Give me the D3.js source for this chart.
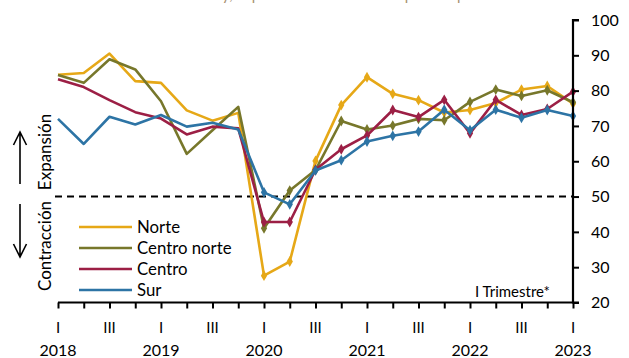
<!DOCTYPE html>
<html>
<head>
<meta charset="utf-8">
<script src="https://cdn.jsdelivr.net/npm/d3@7"></script>
<style>
  html, body { margin: 0; padding: 0; background: #fff; }
  svg { display: block; }
  text { font-family: Lato, "Open Sans", sans-serif; }
</style>
</head>
<body>
<svg id="chart" width="629" height="358"></svg>
<script>
// ---- data ----
const quarterLabels = ["I","","III","","I","","III","","I","","III","","I","","III","","I","","III","","I"];
const yearLabels = ["2018","","","","2019","","","","2020","","","","2021","","","","2022","","","","2023"];
const seriesNames = ["Norte", "Centro norte", "Centro", "Sur"];
const norte       = [84.5, 85.0, 90.5, 82.7, 82.2, 74.4, 71.5, 73.7, 27.6, 31.6, 60.1, 75.9, 83.8, 79.1, 77.3, 73.8, 74.5, 76.5, 80.3, 81.3, 76.3];
const centroNorte = [84.4, 82.2, 88.9, 86.0, 77.0, 62.1, 68.8, 75.4, 41.0, 51.7, 57.5, 71.4, 69.0, 70.1, 72.0, 71.6, 76.8, 80.3, 78.5, 80.1, 76.7];
const centro      = [83.2, 81.0, 77.3, 73.9, 72.1, 67.6, 69.8, 69.3, 42.8, 42.8, 57.6, 63.4, 67.3, 74.5, 72.5, 77.4, 67.9, 77.4, 73.1, 74.8, 79.7];
const sur         = [72.0, 64.9, 72.6, 70.4, 73.1, 69.8, 70.9, 69.0, 51.2, 47.8, 57.4, 60.3, 65.6, 67.2, 68.4, 74.6, 68.8, 74.6, 72.3, 74.5, 72.8];
const yTicks = [20, 30, 40, 50, 60, 70, 80, 90, 100];
const threshold = 50;
const markerStart = 8; // markers from 2020 I onward

const colors = ["#E6A817", "#77772B", "#9C1F45", "#2D74A5"];
const seriesValues = [norte, centroNorte, centro, sur];

// ---- layout ----
const svg = d3.select("#chart");
const idx = d3.range(quarterLabels.length);
const x = d3.scaleLinear().domain([0, idx.length - 1]).range([58, 573]);
const y = d3.scaleLinear().domain([20, 100]).range([302.5, 20]);

// partially visible title (clipped at top, as in the reference)
svg.append("text")
  .attr("x", 300).attr("y", 0)
  .attr("text-anchor", "middle")
  .attr("font-size", 15)
  .attr("fill", "#A89070")
  .text("Índice de difusión y, expectativas de uso de capital en planta");

// threshold dashed line
svg.append("line")
  .attr("x1", 55).attr("x2", x(idx.length - 1))
  .attr("y1", y(threshold)).attr("y2", y(threshold))
  .attr("stroke", "#000").attr("stroke-width", 2)
  .attr("stroke-dasharray", "7,5");

// lines
const line = d3.line().x((d, i) => x(i)).y(d => y(d));
seriesValues.forEach((vals, s) => {
  svg.append("path")
    .datum(vals)
    .attr("d", line)
    .attr("fill", "none")
    .attr("stroke", colors[s])
    .attr("stroke-width", 2.6)
    .attr("stroke-linejoin", "round");
  const sym = d3.symbol().type(d3.symbolDiamond).size(34);
  svg.append("g").selectAll("path")
    .data(vals.map((v, i) => ({v, i})).filter(d => d.i >= markerStart))
    .join("path")
    .attr("d", sym)
    .attr("transform", d => `translate(${x(d.i)},${y(d.v)})`)
    .attr("fill", colors[s]);
});

// right y axis
const yAxis = d3.axisRight(y).tickValues(yTicks).tickSize(6).tickPadding(12);
const gy = svg.append("g").attr("transform", `translate(${x(idx.length - 1)},0)`).call(yAxis);
gy.select(".domain").attr("stroke-width", 2.2).attr("d", `M6,${y(100)}H0V${y(20)}H6`);
gy.selectAll(".tick line").attr("stroke-width", 2);
gy.selectAll("text").attr("font-size", 16).attr("fill", "#000");

// x axis
const xAxis = d3.axisBottom(x).tickValues(idx).tickSize(6).tickFormat("");
const gx = svg.append("g").attr("transform", `translate(0,${y(20)})`).call(xAxis);
gx.select(".domain").attr("stroke-width", 2.2).attr("d", `M${x(0)},0H${x(idx.length - 1)}`);
gx.selectAll(".tick line").attr("stroke-width", 2);

svg.append("g").selectAll("text")
  .data(idx.filter(i => quarterLabels[i] !== ""))
  .join("text")
  .attr("x", i => x(i)).attr("y", 333)
  .attr("text-anchor", "middle")
  .attr("font-size", 15)
  .text(i => quarterLabels[i]);

svg.append("g").selectAll("text")
  .data(idx.filter(i => yearLabels[i] !== ""))
  .join("text")
  .attr("x", i => x(i)).attr("y", 356)
  .attr("text-anchor", "middle")
  .attr("font-size", 16)
  .text(i => yearLabels[i]);

// annotation
svg.append("text")
  .attr("x", 550).attr("y", 297)
  .attr("text-anchor", "end")
  .attr("font-size", 15)
  .text("I Trimestre*");

// legend
const legend = svg.append("g");
seriesNames.forEach((name, s) => {
  const ly = 227 + s * 21;
  legend.append("line")
    .attr("x1", 79).attr("x2", 132).attr("y1", ly).attr("y2", ly)
    .attr("stroke", colors[s]).attr("stroke-width", 2.6);
  legend.append("text")
    .attr("x", 137).attr("y", ly + 6)
    .attr("font-size", 16.8)
    .text(name);
});

// expansion / contraction labels and arrows
svg.append("text")
  .attr("transform", "translate(51,152) rotate(-90)")
  .attr("text-anchor", "middle").attr("font-size", 17)
  .text("Expansión");
svg.append("text")
  .attr("transform", "translate(51,246) rotate(-90)")
  .attr("text-anchor", "middle").attr("font-size", 17)
  .text("Contracción");

const arrowG = svg.append("g").attr("stroke", "#000").attr("stroke-width", 1.6).attr("fill", "none");
arrowG.append("path").attr("d", "M20,184V132M13.5,145L20,132L26.5,145");
arrowG.append("path").attr("d", "M20,204V257M13.5,244L20,257L26.5,244");
</script>
</body>
</html>
